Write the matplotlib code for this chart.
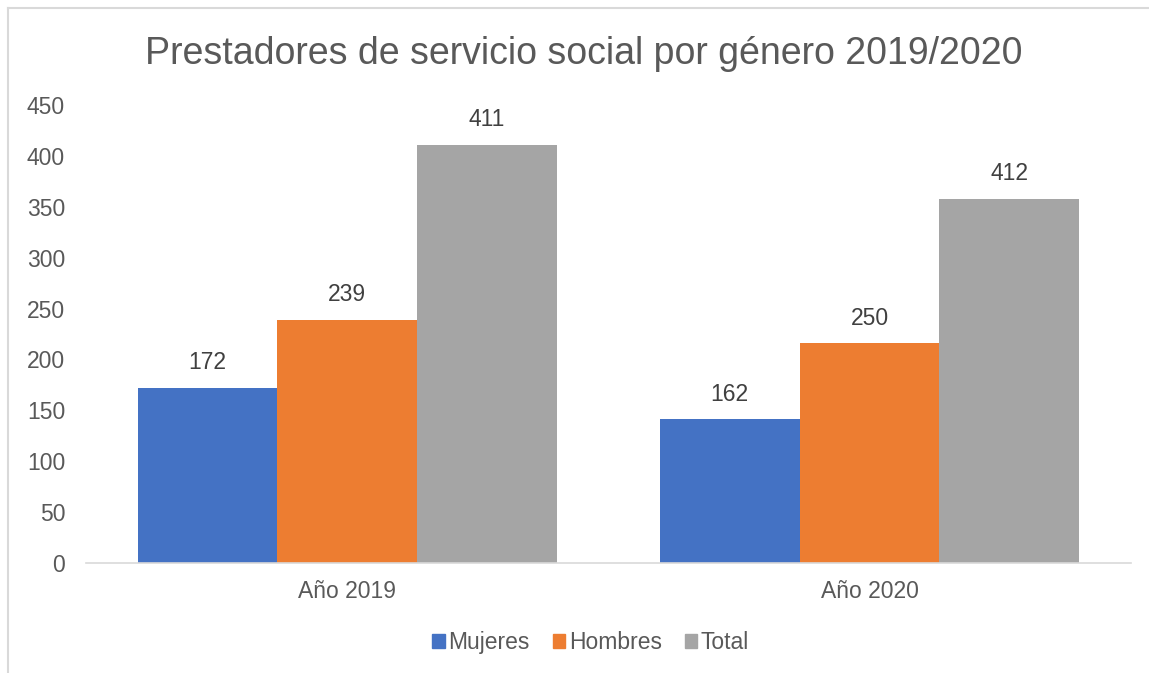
import matplotlib.pyplot as plt
import numpy as np
from matplotlib.lines import Line2D

plt.rcParams['font.family'] = ['Liberation Sans', 'DejaVu Sans']

categories = ['Año 2019', 'Año 2020']
series = ['Mujeres', 'Hombres', 'Total']
# bar heights as drawn in the picture
heights = [[172, 141], [239, 216], [411, 358]]
# data labels as printed on the chart
labels = [[172, 162], [239, 250], [411, 412]]
colors = ['#4472C4', '#ED7D31', '#A5A5A5']
yticks = [0, 50, 100, 150, 200, 250, 300, 350, 400, 450]

text_color = '#595959'
fs = 16.5

fig = plt.figure(figsize=(11.49, 6.73), dpi=100)
ax = fig.add_axes([0.0748, 0.1635, 0.9092, 0.6805])

x = np.arange(len(categories))
w = 0.802 / 3
for i, name in enumerate(series):
    pos = x + (i - 1) * w
    bars = ax.bar(pos, heights[i], width=w, color=colors[i], label=name, zorder=2)
    for b, lab in zip(bars, labels[i]):
        ax.annotate(str(lab), (b.get_x() + b.get_width() / 2, b.get_height()),
                    xytext=(0, 18), textcoords='offset points', ha='center', va='center',
                    fontsize=fs, color='#404040')

ax.set_xlim(-0.5, 1.5)
ax.set_ylim(0, 450)
ax.set_yticks(yticks)
ax.set_xticks(x)
ax.set_xticklabels(categories)
ax.tick_params(axis='both', length=0, labelsize=fs, labelcolor=text_color)
ax.tick_params(axis='x', pad=12)
ax.tick_params(axis='y', pad=15)
for s in ['top', 'right', 'left']:
    ax.spines[s].set_visible(False)
ax.spines['bottom'].set_color('#D9D9D9')
ax.spines['bottom'].set_linewidth(1.2)

fig.suptitle('Prestadores de servicio social por género 2019/2020', x=0.508, y=0.946,
             fontsize=27, color=text_color)

handles = [plt.Rectangle((0, 0), 1, 1, color=c) for c in colors]
fig.legend(handles, series, loc='center', bbox_to_anchor=(0.514, 0.045), ncol=3,
           frameon=False, fontsize=fs, labelcolor=text_color, handlelength=0.55,
           handleheight=0.55, handletextpad=0.15, columnspacing=1.0)

# outer chart border (top and left edges visible)
fig.add_artist(Line2D([8 / 1149, 1], [1 - 8 / 673, 1 - 8 / 673], color='#D9D9D9', lw=1.5))
fig.add_artist(Line2D([8 / 1149, 8 / 1149], [0, 1 - 8 / 673], color='#D9D9D9', lw=1.5))

plt.savefig('out.png', dpi=100)
